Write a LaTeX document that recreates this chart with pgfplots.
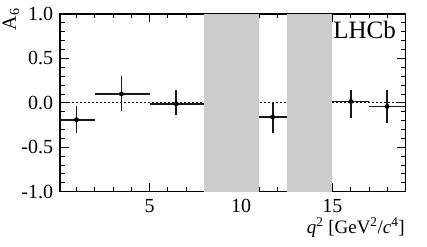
\documentclass[border=0pt]{standalone}
\usepackage{pgfplots}
\pgfplotsset{compat=1.18}
\usepackage{pgfplotstable}
\usepackage{fontspec}
\setmainfont{Liberation Serif}
\pgfplotstableread{
x y exm exp eym eyp
1.0 -0.19 0.9 1.0 0.15 0.16
3.46 0.10 1.46 1.54 0.19 0.20
6.46 -0.01 1.46 1.54 0.13 0.15
11.73 -0.16 0.73 0.77 0.18 0.165
16.01 0.015 1.01 0.99 0.18 0.125
17.99 -0.04 0.99 1.01 0.185 0.19
}\datatable
\begin{document}
\begin{tikzpicture}
\useasboundingbox (0,0) rectangle (427bp,247bp);
\begin{axis}[
  name=ax,
  at={(60bp,55.3bp)}, anchor=south west,
  scale only axis, width=345.6bp, height=177.7bp,
  xmin=0.1, xmax=19, ymin=-1, ymax=1,
  axis line style={line width=1.2bp},
  xtick={5,10,15}, xticklabels={\mbox{5},\mbox{10},\mbox{15}},
  minor xtick={1,2,3,4,6,7,8,9,11,12,13,14,16,17,18},
  ytick={-1,-0.5,0,0.5,1}, yticklabels={\mbox{-1.0},\mbox{-0.5},\mbox{0.0},\mbox{0.5},\mbox{1.0}},
  minor y tick num=4,
  tick align=inside,
  major tick length=8.5bp, minor tick length=4.5bp,
  tick style={line width=0.9bp, black},
  xticklabel style={font=\fontsize{20bp}{24bp}\selectfont, inner sep=0pt, yshift=-7.3bp},
  yticklabel style={font=\fontsize{20bp}{24bp}\selectfont, inner sep=0pt, xshift=-6.7bp},
  xlabel={\textit{q}\textsuperscript{2} [GeV\textsuperscript{2}/\textit{c}\textsuperscript{4}]},
  xlabel style={font=\fontsize{19bp}{23bp}\selectfont, at={(axis description cs:0.9983,-0.238)}, anchor=base east, inner sep=0pt},
  clip=true,
]
\addplot[black, line width=0.9bp, dash pattern=on 2bp off 2bp, forget plot] coordinates {(0.1,0) (19,0)};
\addplot[fill=black!20, draw=none, forget plot] coordinates {(8,-1) (8,1) (11,1) (11,-1)} -- cycle;
\addplot[fill=black!20, draw=none, forget plot] coordinates {(12.5,-1) (12.5,1) (15,1) (15,-1)} -- cycle;
\addplot[black, only marks, mark=*, mark size=2.2bp,
  error bars/.cd, x dir=both, x explicit, y dir=both, y explicit,
  error mark=none, error bar style={line width=1.8bp, black!90}]
  table[x=x, y=y, x error plus=exp, x error minus=exm, y error plus=eyp, y error minus=eym] {\datatable};
\node[font=\fontsize{25bp}{30bp}\selectfont, anchor=base east, inner sep=0pt] at ([xshift=-9.6bp, yshift=-24.3bp]rel axis cs:1,1) {LHCb};
\end{axis}
\node[font=\fontsize{20bp}{24bp}\selectfont, rotate=89.9, anchor=base east, inner sep=0pt] at ([xshift=-44bp, yshift=6bp]ax.north west) {A\textsubscript{6}};
\end{tikzpicture}
\end{document}
